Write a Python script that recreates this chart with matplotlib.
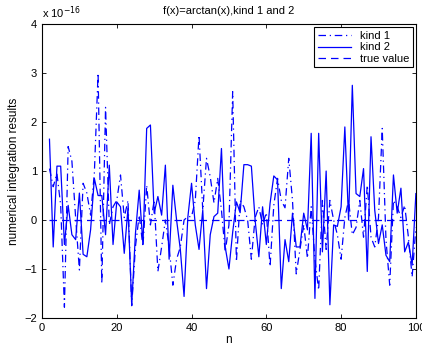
import numpy as np
import matplotlib
matplotlib.use("Agg")
import matplotlib.pyplot as plt

plt.rcParams["font.family"] = ["Liberation Sans", "DejaVu Sans"]

# values shown in units of 1e-16
n = np.arange(2, 101)
kind1 = [
    1.05, 0.68, 0.95, 0.3, -1.78, 1.5, 1.2, 0.05, -1.02, 0.75,
    0.55, 0.1, 0.95, 3.0, -1.3, 2.3, -0.1, 0.27, 0.4, 0.92,
    0.05, 0.4, -1.75, -0.54, 0.1, -0.54, 0.71, -0.1, 0.4, -1.05,
    -0.55, 0.0, -0.55, -1.33, -0.8, -0.55, 0.0, 0.07, 0.07, 0.4,
    1.73, 0.2, 1.26, 0.88, 0.35, 0.85, 0.2, -0.65, -0.1, 2.62,
    -0.85, 0.4, 0.27, 0.0, -0.8, 0.05, 0.27, -0.1, 0.15, -0.95,
    0.3, 0.85, 0.4, 0.25, 1.26, 0.4, -1.1, -0.6, -0.1, -0.78,
    0.27, -0.8, -1.43, 0.4, -0.6, 0.4, 0.0, -0.3, -0.8, 0.05,
    0.4, -0.3, -0.15, 0.4, -0.35, 0.71, -0.35, -0.55, 0.05, 1.87,
    -0.4, -1.33, 0.4, 0.27, 0.05, 0.3, -0.35, -1.16, -0.15,
]
kind2 = [
    1.65, -0.55, 1.1, 1.1, -0.5, 0.3, -0.3, -0.4, 0.55, -0.7,
    -0.75, -0.2, 0.85, 0.5, 0.5, -0.3, 1.12, -0.5, 0.37, 0.27,
    -0.68, 0.24, -1.73, -0.27, 0.61, -0.5, 1.87, 1.94, 0.14, 0.48,
    0.1, 1.12, -0.8, 0.71, 0.0, -0.6, -1.56, 0.05, 0.75, -0.1,
    -0.6, 0.2, -1.4, -0.3, 0.07, 0.14, 1.46, -0.55, -1.0, -0.25,
    0.37, 0.15, 1.13, 1.13, 1.1, 0.0, -0.75, 0.27, -0.5, 0.34,
    0.9, 0.82, -1.4, -0.4, -0.85, 0.14, -0.55, -0.55, 0.14, -0.2,
    1.77, -1.6, 1.77, -0.65, 1.0, -1.73, -0.1, -0.13, 0.27, 1.9,
    0.0, 2.75, 0.54, 0.48, 1.05, -1.05, 1.7, 0.2, -0.48, -0.1,
    -0.72, -0.85, 0.92, 0.14, 0.65, -0.65, -0.45, -0.92, 0.54,
]
true_value = np.zeros(len(n))

fig = plt.figure(figsize=(4.22, 3.52), dpi=100)
ax = fig.add_axes([0.0995, 0.0966, 0.886, 0.835])

ax.plot(n, kind1, color="blue", linestyle=(0, (6, 3, 1, 3)), linewidth=0.9, label="kind 1")
ax.plot(n, kind2, color="blue", linestyle="-", linewidth=0.9, label="kind 2")
ax.plot(n, true_value, color="blue", linestyle=(0, (6, 4)), linewidth=0.9, label="true value")

ax.set_xlim(0, 100)
ax.set_ylim(-2, 4)
ax.set_xticks(range(0, 101, 20))
ax.set_yticks(range(-2, 5))
ax.set_yticklabels([str(v).replace("-", "\u2212") for v in range(-2, 5)])
ax.tick_params(direction="in", top=True, right=True, labelsize=8, length=3, width=0.6)
for s in ax.spines.values():
    s.set_linewidth(0.8)

ax.set_xlabel("n", fontsize=8.5, labelpad=1)
ax.set_ylabel("numerical integration results", fontsize=8.5, labelpad=3)
ax.set_title("f(x)=arctan(x),kind 1 and 2", fontsize=8, pad=7)
ax.text(0.0, 1.012, r"x 10$^{-16}$", transform=ax.transAxes, fontsize=8, va="bottom")

leg = ax.legend(loc="upper right", fontsize=8, fancybox=False, framealpha=1,
                edgecolor="black", handlelength=3, borderpad=0.3,
                labelspacing=0.15, borderaxespad=0.3)
leg.get_frame().set_linewidth(0.8)

fig.savefig("out.png", dpi=100)
